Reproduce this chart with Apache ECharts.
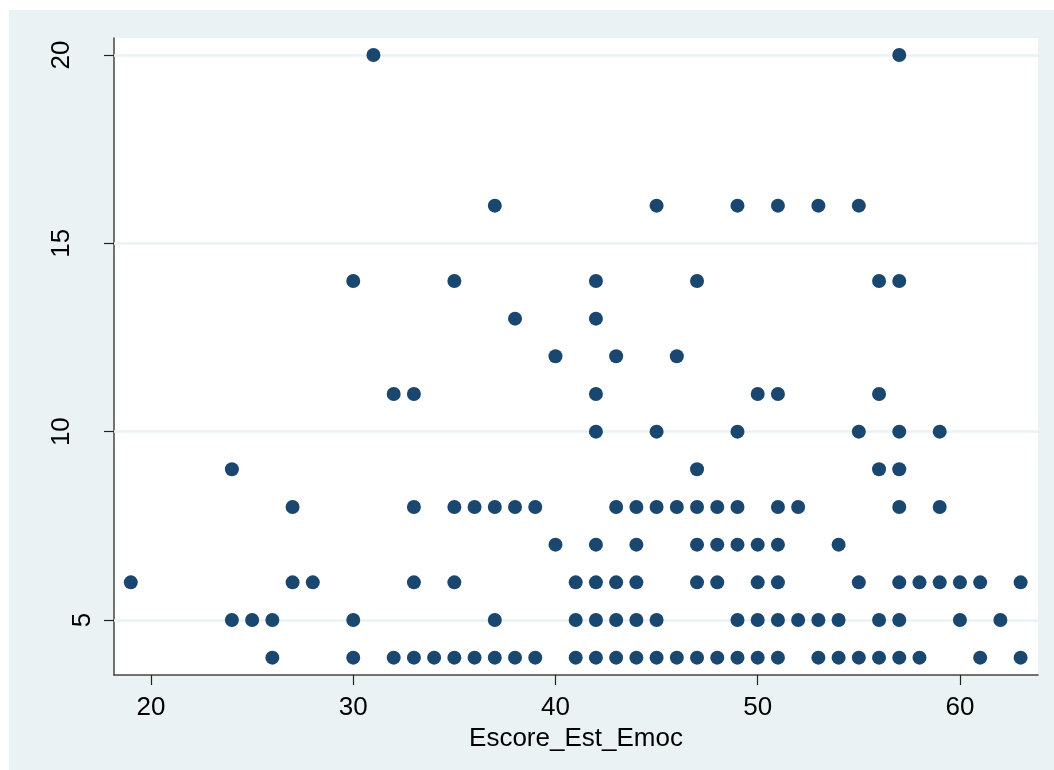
<!DOCTYPE html>
<html>
<head>
<meta charset="utf-8">
<script src="https://cdn.jsdelivr.net/npm/echarts@6/dist/echarts.min.js"></script>
<style>
  html, body { margin: 0; padding: 0; background: #fff; }
  #main { position: absolute; left: 9px; top: 10px; width: 1045px; height: 760px; }
</style>
</head>
<body>
<div id="main"></div>
<script>
// y levels (count) and the Escore_Est_Emoc values found at each level
var yLevels = [4, 5, 6, 7, 8, 9, 10, 11, 12, 13, 14, 16, 20];
var xAt4 = [26, 30, 32, 33, 34, 35, 36, 37, 38, 39, 41, 42, 43, 44, 45, 46, 47, 48, 49, 50, 51, 53, 54, 55, 56, 57, 58, 61, 63];
var xAt5 = [24, 25, 26, 30, 37, 41, 42, 43, 44, 45, 49, 50, 51, 52, 53, 54, 56, 57, 60, 62];
var xAt6 = [19, 27, 28, 33, 35, 41, 42, 43, 44, 47, 48, 50, 51, 55, 57, 58, 59, 60, 61, 63];
var xAt7 = [40, 42, 44, 47, 48, 49, 50, 51, 54];
var xAt8 = [27, 33, 35, 36, 37, 38, 39, 43, 44, 45, 46, 47, 48, 49, 51, 52, 57, 59];
var xAt9 = [24, 47, 56, 57];
var xAt10 = [42, 45, 49, 55, 57, 59];
var xAt11 = [32, 33, 42, 50, 51, 56];
var xAt12 = [40, 43, 46];
var xAt13 = [38, 42];
var xAt14 = [30, 35, 42, 47, 56, 57];
var xAt16 = [37, 45, 49, 51, 53, 55];
var xAt20 = [31, 57];
var xByLevel = [xAt4, xAt5, xAt6, xAt7, xAt8, xAt9, xAt10, xAt11, xAt12, xAt13, xAt14, xAt16, xAt20];

var xTicks = [20, 30, 40, 50, 60];
var yTicks = [5, 10, 15, 20];

var points = [];
yLevels.forEach(function (y, i) {
    xByLevel[i].forEach(function (x) { points.push([x, y]); });
});

var font = '"Liberation Sans", Arial, sans-serif',
    axisColor = '#444',
    bgColor = '#EAF2F3';

var myChart = echarts.init(document.getElementById('main')),
    option = {
        backgroundColor: bgColor,
        animation: false,
        textStyle: { fontFamily: font },
        grid: {
            left: 105, top: 28, right: 16, bottom: 95,
            show: true, backgroundColor: '#fff', borderWidth: 0
        },
        xAxis: {
            type: 'value',
            min: 18.17,
            max: 63.86,
            name: 'Escore_Est_Emoc',
            nameLocation: 'middle',
            nameGap: 41,
            nameTextStyle: { fontSize: 26, color: '#000', fontFamily: font },
            axisLine: { show: true, lineStyle: { color: axisColor, width: 1.5 } },
            axisTick: { show: true, length: 10, customValues: xTicks, lineStyle: { color: '#222', width: 1.2 } },
            axisLabel: { customValues: xTicks, fontSize: 26, color: '#000', margin: 20, fontFamily: font },
            splitLine: { show: false }
        },
        yAxis: {
            type: 'value',
            min: 3.54,
            max: 20.45,
            axisLine: { show: true, lineStyle: { color: axisColor, width: 1.5 } },
            axisTick: { show: true, length: 10, customValues: yTicks, lineStyle: { color: '#222', width: 1.2 } },
            axisLabel: {
                customValues: yTicks,
                rotate: 90,
                margin: 18,
                fontSize: 26,
                color: '#000',
                fontFamily: font,
                formatter: function (v) {
                    return v < 10 ? '{one|' + v + '}' : '{two|' + v + '}';
                },
                rich: {
                    one: { fontSize: 26, color: '#000', fontFamily: font },
                    two: { fontSize: 26, color: '#000', fontFamily: font, padding: [0, 0, 21, 0] }
                }
            },
            splitLine: { show: false }
        },
        series: [
            {
                // horizontal grid lines, drawn beneath the markers
                type: 'scatter',
                data: [],
                silent: true,
                markLine: {
                    silent: true,
                    z: 1,
                    symbol: ['none', 'none'],
                    label: { show: false },
                    lineStyle: { color: bgColor, width: 2.5, type: 'solid' },
                    data: yTicks.map(function (v) { return { yAxis: v }; })
                }
            },
            {
                type: 'scatter',
                z: 3,
                symbol: 'circle',
                symbolSize: 14,
                itemStyle: { color: '#1A476F', opacity: 1 },
                data: points
            }
        ]
    };

myChart.setOption(option);
</script>
</body>
</html>
